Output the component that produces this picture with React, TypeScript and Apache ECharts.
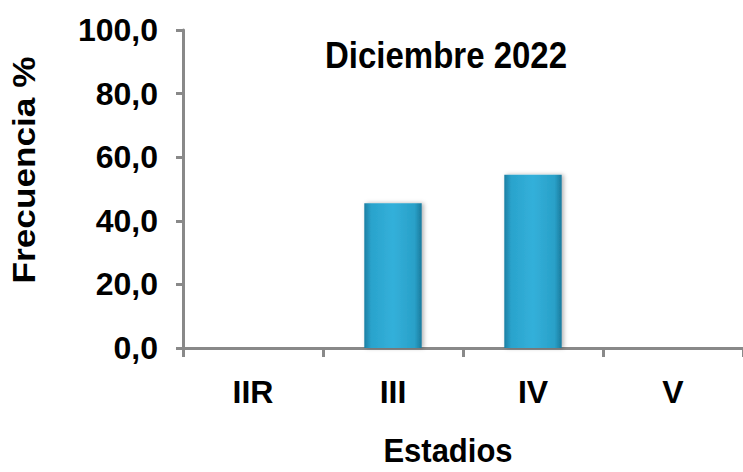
import React, { useEffect, useRef } from "react";
import * as echarts from "echarts";

const categories = ["IIR", "III", "IV", "V"];
const frecuencia = [0, 45.5, 54.5, 0];
const yTicks = [0, 20, 40, 60, 80, 100];

const FONT = "'Liberation Sans', Arial, sans-serif";

export default function App() {
  const ref = useRef<HTMLDivElement>(null);
  useEffect(() => {
    document.body.style.margin = "0";
    const chart = echarts.init(ref.current!, null, { renderer: "svg" });
    const barColor = new echarts.graphic.LinearGradient(0, 0, 1, 0, [
      { offset: 0, color: "#1c7fa3" },
      { offset: 0.12, color: "#2aa3cc" },
      { offset: 0.5, color: "#33b0da" },
      { offset: 0.88, color: "#29a0c8" },
      { offset: 1, color: "#1b7a9c" },
    ]);
    chart.setOption({
      animation: false,
      grid: { left: 183, right: -6, top: 30, bottom: 124, containLabel: false },
      graphic: [
        {
          type: "text",
          x: 446,
          y: 55,
          scaleY: 1.1,
          style: {
            text: "Diciembre 2022",
            textAlign: "center",
            textVerticalAlign: "middle",
            font: `bold 33px ${FONT}`,
            fill: "#000",
          },
        },
        {
          type: "text",
          x: 448,
          y: 451,
          scaleY: 1.05,
          style: {
            text: "Estadios",
            textAlign: "center",
            textVerticalAlign: "middle",
            font: `bold 31px ${FONT}`,
            fill: "#000",
          },
        },
        {
          type: "text",
          x: 24,
          y: 170,
          rotation: Math.PI / 2,
          scaleX: 1.1,
          style: {
            text: "Frecuencia %",
            textAlign: "center",
            textVerticalAlign: "middle",
            font: `bold 32px ${FONT}`,
            fill: "#000",
          },
        },
      ],
      xAxis: {
        type: "category",
        data: categories,
        boundaryGap: true,
        axisLine: { show: true, lineStyle: { color: "#898989", width: 3 } },
        axisTick: { show: true, length: 9, alignWithLabel: false, lineStyle: { color: "#898989", width: 3 } },
        axisLabel: {
          margin: 28,
          color: "#000",
          fontFamily: FONT,
          fontWeight: "bold",
          fontSize: 32,
        },
      },
      yAxis: {
        type: "value",
        min: 0,
        max: 100,
        interval: 20,
        axisLine: { show: true, lineStyle: { color: "#898989", width: 3 } },
        axisTick: { show: true, length: 7, lineStyle: { color: "#898989", width: 3 } },
        splitLine: { show: false },
        axisLabel: {
          margin: 25,
          color: "#000",
          fontFamily: FONT,
          fontWeight: "bold",
          fontSize: 32,
          formatter: (v: number) => (yTicks.includes(v) ? v.toFixed(1).replace(".", ",") : ""),
        },
      },
      series: [
        {
          type: "bar",
          data: frecuencia,
          barWidth: "41%",
          itemStyle: {
            color: barColor,
            shadowBlur: 4,
            shadowColor: "rgba(0,0,0,0.3)",
            shadowOffsetX: 2,
            shadowOffsetY: 0,
          },
        },
      ],
    });
    return () => chart.dispose();
  }, []);
  return <div ref={ref} style={{ width: 743, height: 472 }} />;
}
